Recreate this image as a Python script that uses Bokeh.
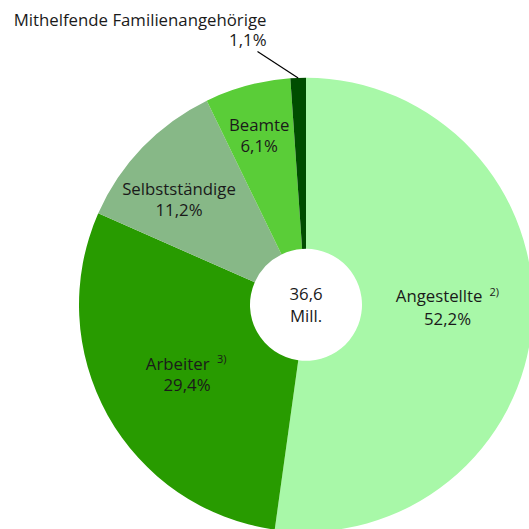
import math
from bokeh.plotting import figure
from bokeh.models import Range1d, ColumnDataSource
from bokeh.core.properties import value
from bokeh.embed import file_html
from bokeh.resources import INLINE

# ---- data ----
categories = ["Angestellte", "Arbeiter", "Selbstständige", "Beamte", "Mithelfende Familienangehörige"]
shares = [52.2, 29.4, 11.2, 6.1, 1.1]
footnotes = ["2)", "3)", "", "", ""]
total = 36.6
total_unit = "Mill."

# ---- style / layout ----
colors = ["#a8f8a8", "#289b00", "#87b887", "#5acd38", "#004d00"]
FONT = value("Open Sans")
TXT = "#1a1a1a"
FS = "16.8px"
CX, CY_REF = 305.5, 304.3
R_OUT, R_IN = 227, 56
W = 529
TSHIFT = -6  # baseline correction for text rendering


def Y(yref):
    return W - yref


def YT(yref):
    return W - (yref + TSHIFT)


CY = Y(CY_REF)

# label layout in reference pixel coords: (x, name baseline, value baseline, align)
label_layout = [
    (447, 301, 324, "center"),
    (186.5, 368.5, 389.5, "center"),
    (178.5, 194, 214.5, "center"),
    (258.7, 130, 150.7, "center"),
    (266, 25, 45, "right"),
]
# for footnoted labels: right edge of word, left edge of footnote
foot_layout = {0: (482, 489), 1: (209, 216.5)}
leader_end = (257, 51)

# ---- angles ----
starts, ends, mids = [], [], []
cum = 0.0
tot = sum(shares)
for s in shares:
    a0 = math.pi / 2 - 2 * math.pi * cum / tot
    cum += s
    a1 = math.pi / 2 - 2 * math.pi * cum / tot
    starts.append(a0)
    ends.append(a1)
    mids.append((a0 + a1) / 2)

src = ColumnDataSource(dict(start=starts, end=ends, color=colors))

p = figure(width=W, height=W, x_range=Range1d(0, W), y_range=Range1d(0, W),
           output_backend="svg", toolbar_location=None, min_border=0,
           x_axis_location=None, y_axis_location=None)
p.grid.visible = False
p.outline_line_color = None
p.background_fill_color = "white"
p.border_fill_color = "white"

p.annular_wedge(x=CX, y=CY, inner_radius=R_IN, outer_radius=R_OUT,
                start_angle="start", end_angle="end", direction="clock",
                fill_color="color", line_color=None, source=src)

# leader line for the small slice
i_small = len(shares) - 1
lx0 = CX + R_OUT * math.cos(mids[i_small])
ly0 = CY + R_OUT * math.sin(mids[i_small])
p.segment(x0=[lx0], y0=[ly0], x1=[leader_end[0]], y1=[Y(leader_end[1])],
          line_color="black", line_width=1.2)


def pct(v):
    return f"{v:.1f}".replace(".", ",") + "%"


for i, (cat, v) in enumerate(zip(categories, shares)):
    x, yb1, yb2, align = label_layout[i]
    if i in foot_layout:
        xr, xf = foot_layout[i]
        p.text(x=[xr], y=[YT(yb1)], text=[cat], text_align="right", text_baseline="alphabetic",
               text_font=FONT, text_font_size=FS, text_color=TXT)
        p.text(x=[xf], y=[YT(yb1 - 4.5)], text=[footnotes[i]], text_align="left",
               text_baseline="alphabetic", text_font=FONT, text_font_size="11px", text_color=TXT)
    else:
        p.text(x=[x], y=[YT(yb1)], text=[cat], text_align=align, text_baseline="alphabetic",
               text_font=FONT, text_font_size=FS, text_color=TXT)
    p.text(x=[x], y=[YT(yb2)], text=[pct(v)], text_align=align, text_baseline="alphabetic",
           text_font=FONT, text_font_size=FS, text_color=TXT)

# center total
p.text(x=[CX], y=[YT(299.5)], text=[f"{total:.1f}".replace(".", ",")], text_align="center",
       text_baseline="alphabetic", text_font=FONT, text_font_size=FS, text_color=TXT)
p.text(x=[CX], y=[YT(321)], text=[total_unit], text_align="center",
       text_baseline="alphabetic", text_font=FONT, text_font_size=FS, text_color=TXT)

open("out.html", "w").write(file_html(p, INLINE))
